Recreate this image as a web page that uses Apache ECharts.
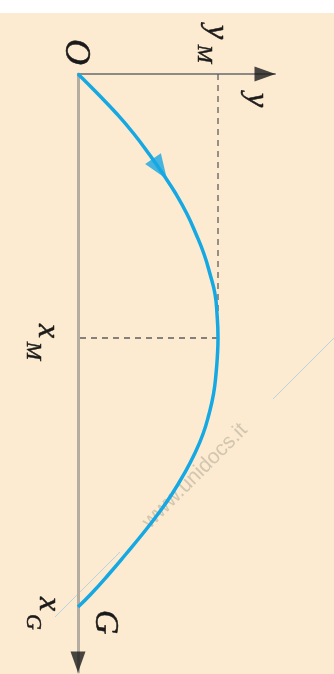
<!DOCTYPE html>
<html>
<head>
<meta charset="utf-8">
<script src="https://cdn.jsdelivr.net/npm/echarts@6/dist/echarts.min.js"></script>
<style>
  html, body { margin: 0; padding: 0; background: #ffffff; }
  #chart { width: 334px; height: 674px; }
</style>
</head>
<body>
<div id="chart"></div>
<script>
// Projectile path O -> G, drawn sideways: "dist" runs down the page (x axis of the figure),
// "height" runs to the right (y axis of the figure).
const pathDist   = [0, 20, 40, 60, 80, 100, 120, 140, 160, 180, 200, 220, 240, 264,
                    280, 300, 320, 340, 360, 380, 400, 420, 440, 460, 480, 500, 520, 533];
const pathHeight = [0, 20, 39, 56, 71, 85, 98, 109, 118, 126, 132, 137, 139, 140,
                    139.5, 138, 135.5, 131, 125, 116.5, 106, 94, 80, 64.5, 48, 31, 13, 0];

// Summit and landing point
const summit  = { dist: 264, height: 140 };
const landing = { dist: 533, height: 0 };

// Axis extents
const heightMax = 197;
const distMax   = 598;

// Direction marker on the path
const marker = { dist: 95, height: 82, angle: 214 };

const chart = echarts.init(document.getElementById('chart'), null, { renderer: 'canvas' });

const serif = '"Liberation Serif", "DejaVu Serif", serif';
const ink = '#1a1a1a';

const option = {
  animation: false,
  backgroundColor: 'transparent',
  grid: { left: 78, top: 74, width: 197, height: 598 },
  xAxis: {
    type: 'value', min: 0, max: heightMax, position: 'top',
    axisLine: { onZero: false, lineStyle: { color: '#8c8a86', width: 2 } },
    axisTick: { show: false }, axisLabel: { show: false }, splitLine: { show: false }
  },
  yAxis: {
    type: 'value', min: 0, max: distMax, inverse: true, position: 'left',
    axisLine: { onZero: false, lineStyle: { color: '#b5ada2', width: 3 } },
    axisTick: { show: false }, axisLabel: { show: false }, splitLine: { show: false }
  },
  series: [
    {
      // dashed guides to the summit
      type: 'line', symbol: 'none', silent: true, z: 2,
      data: [[summit.height, 0], [summit.height, summit.dist], [0, summit.dist]],
      lineStyle: { color: '#5e5e5e', width: 1.3, type: [6, 5] }
    },
    {
      type: 'line', symbol: 'none', smooth: true, z: 3,
      data: pathDist.map((d, i) => [pathHeight[i], d]),
      lineStyle: { color: '#16a8e2', width: 3.5 }
    },
    {
      type: 'scatter', z: 4,
      symbol: 'triangle', symbolSize: [19, 25], symbolRotate: marker.angle,
      itemStyle: { color: '#16a8e2' },
      data: [[marker.height, marker.dist]]
    },
    {
      // axis arrowheads
      type: 'scatter', z: 5, symbol: 'triangle',
      itemStyle: { color: ink },
      data: [
        { value: [heightMax - 10, 0], symbolSize: [15, 21], symbolRotate: -90 },
        { value: [0, distMax - 10], symbolSize: [15, 21], symbolRotate: 180 }
      ]
    }
  ]
};
chart.setOption(option);

const px = (h, d) => chart.convertToPixel({ gridIndex: 0 }, [h, d]);
const pO = px(0, 0);
const pTop = px(summit.height, 0);
const pMid = px(0, summit.dist);
const pG = px(landing.height, landing.dist);
const pEnd = px(heightMax, 0);

// Rotated italic label; dx/dy shift from the anchor point
function label(text, p, dx, dy, size) {
  return {
    type: 'text', x: p[0] + dx, y: p[1] + dy, rotation: -Math.PI / 2, z: 10,
    style: {
      text, fill: ink, font: 'italic ' + size + 'px ' + serif,
      stroke: ink, lineWidth: 0.5,
      align: 'center', verticalAlign: 'middle'
    }
  };
}

chart.setOption({
  graphic: [
    { type: 'rect', z: -10, silent: true, shape: { x: 0, y: 13, width: 334, height: 661 },
      style: { fill: '#fcebd0' } },
    { type: 'line', z: -5, silent: true, shape: { x1: 273, y1: 399, x2: 334, y2: 338 },
      style: { stroke: '#b9d2dc', lineWidth: 1 } },
    { type: 'line', z: -5, silent: true, shape: { x1: 55, y1: 617, x2: 120, y2: 552 },
      style: { stroke: '#b9d2dc', lineWidth: 1 } },
    { type: 'text', x: 195, y: 476, rotation: Math.PI / 4, z: -4, silent: true,
      style: { text: 'www.unidocs.it', fill: '#d3c6b1', font: '21px "Liberation Sans", sans-serif',
               align: 'center', verticalAlign: 'middle' } },
    label('O', pO, -3, -22, 36),
    label('y', pTop, -2, -42, 32),
    label('M', pTop, -14, -20, 22),
    label('y', pEnd, -19, 26, 32),
    label('x', pMid, -31, -7, 32),
    label('M', pMid, -45, 13, 22),
    label('x', pG, -30, -3, 32),
    label('G', pG, -45, 15, 22),
    label('G', pG, 27, 15, 34)
  ]
});
</script>
</body>
</html>
